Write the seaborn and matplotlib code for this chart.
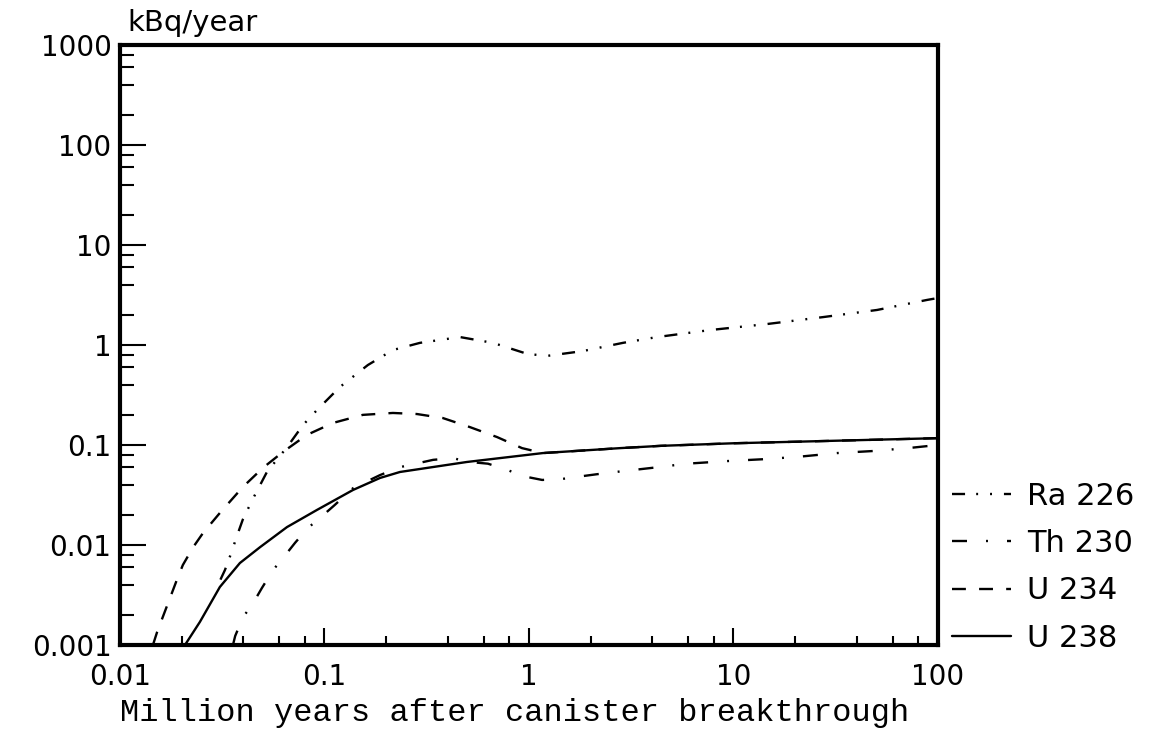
import matplotlib
matplotlib.use("Agg")
import matplotlib.pyplot as plt
import seaborn as sns
import pandas as pd
from matplotlib.ticker import LogLocator, FixedLocator, FixedFormatter, NullFormatter
from matplotlib.lines import Line2D

# ---------------- data ----------------
ra226_x = [0.031, 0.0326, 0.0353, 0.0369, 0.0399, 0.0447, 0.0524, 0.0656, 0.0785, 0.092,
           0.119, 0.163, 0.216, 0.293, 0.46, 0.667, 0.989, 1.24, 1.84, 2.88, 4.23, 7.68,
           14.6, 27.4, 50.4, 88.3, 100]
ra226_y = [0.0045, 0.0056, 0.0087, 0.0115, 0.018, 0.029, 0.054, 0.095, 0.158, 0.224,
           0.38, 0.63, 0.89, 1.05, 1.2, 1.05, 0.81, 0.78, 0.87, 1.05, 1.2, 1.41,
           1.62, 1.9, 2.24, 2.82, 2.95]

th230_x = [0.0357, 0.0366, 0.040, 0.0447, 0.0494, 0.056, 0.0627, 0.0718, 0.083, 0.095,
           0.112, 0.138, 0.149, 0.187, 0.234, 0.34, 0.425, 0.497, 0.63, 0.79, 0.925,
           1.16, 1.45, 1.72, 2.15, 2.72, 3.99, 5.92, 9.29, 13.9, 20.5, 32.1, 48.1, 71.3, 100]
th230_y = [0.001, 0.00123, 0.0019, 0.0026, 0.0037, 0.0056, 0.0074, 0.0105, 0.0148, 0.0186,
           0.025, 0.037, 0.040, 0.050, 0.060, 0.071, 0.074, 0.068, 0.065, 0.056, 0.049,
           0.0447, 0.0457, 0.048, 0.051, 0.054, 0.059, 0.065, 0.069, 0.072, 0.076, 0.083,
           0.087, 0.093, 0.100]

u234_x = [0.0145, 0.0152, 0.019, 0.0203, 0.0228, 0.0255, 0.0308, 0.0399, 0.05, 0.0626,
          0.082, 0.110, 0.154, 0.216, 0.283, 0.379, 0.514, 0.698, 0.925, 1.17, 2.79,
          4.4, 10, 21.1, 100]
u234_y = [0.001, 0.00135, 0.0045, 0.0063, 0.0095, 0.0132, 0.0209, 0.038, 0.059, 0.085,
          0.126, 0.166, 0.200, 0.209, 0.204, 0.186, 0.151, 0.120, 0.093, 0.083, 0.093,
          0.098, 0.104, 0.108, 0.117]

u238_x = [0.0208, 0.0246, 0.0308, 0.0386, 0.0484, 0.0656, 0.0919, 0.138, 0.187, 0.234,
          0.497, 1.17, 2.79, 4.4, 10, 21.1, 100]
u238_y = [0.001, 0.0017, 0.0038, 0.0066, 0.0095, 0.0151, 0.0224, 0.0355, 0.0468, 0.0537,
          0.0676, 0.083, 0.093, 0.098, 0.104, 0.108, 0.117]

series_names = ["Ra 226", "Th 230", "U 234", "U 238"]

y_tick_values = [0.001, 0.01, 0.1, 1, 10, 100, 1000]
y_tick_labels = ["0.001", "0.01", "0.1", "1", "10", "100", "1000"]
x_tick_values = [0.01, 0.1, 1, 10, 100]
x_tick_labels = ["0.01", "0.1", "1", "10", "100"]

x_label = "Million years after canister breakthrough"
y_label = "kBq/year"

# ---------------- styling ----------------
sns.set_style("white")
plt.rcParams["font.family"] = ["DejaVu Sans"]
plt.rcParams["lines.scale_dashes"] = False
plt.rcParams["text.color"] = "black"
plt.rcParams["axes.labelcolor"] = "black"

styles = {
    "Ra 226": (0, (9.4, 8.0, 1.4, 8.6, 1.4, 8.6)),
    "Th 230": (0, (10.8, 13.7, 1.4, 13.7)),
    "U 234": (0, (10.0, 9.5)),
    "U 238": "-",
}
data = {
    "Ra 226": (ra226_x, ra226_y),
    "Th 230": (th230_x, th230_y),
    "U 234": (u234_x, u234_y),
    "U 238": (u238_x, u238_y),
}

fig = plt.figure(figsize=(11.6, 7.34), dpi=100)
ax = fig.add_axes([0.1034, 0.1213, 0.7052, 0.8174])
ax.set_xscale("log")
ax.set_yscale("log")

lw = 1.7
for name in ["U 234", "Th 230", "Ra 226", "U 238"]:
    xs, ys = data[name]
    df = pd.DataFrame({"x": xs, "y": ys})
    sns.lineplot(data=df, x="x", y="y", ax=ax, color="black", linewidth=lw,
                 linestyle=styles[name], estimator=None, sort=False, legend=False)

ax.set_xlim(0.01, 100)
ax.set_ylim(0.001, 1000)

# ticks
ax.xaxis.set_major_locator(FixedLocator(x_tick_values))
ax.xaxis.set_major_formatter(FixedFormatter(x_tick_labels))
ax.yaxis.set_major_locator(FixedLocator(y_tick_values))
ax.yaxis.set_major_formatter(FixedFormatter(y_tick_labels))
ax.xaxis.set_minor_locator(LogLocator(base=10, subs=(2, 4, 6, 8), numticks=20))
ax.yaxis.set_minor_locator(LogLocator(base=10, subs=(2, 4, 6, 8), numticks=20))
ax.xaxis.set_minor_formatter(NullFormatter())
ax.yaxis.set_minor_formatter(NullFormatter())

ax.tick_params(axis="both", which="both", direction="in", top=False, right=False,
               bottom=True, left=True, width=1.5, color="black", labelcolor="black",
               labelsize=20)
ax.tick_params(axis="y", which="major", length=18.5, pad=6)
ax.tick_params(axis="y", which="minor", length=10)
ax.tick_params(axis="x", which="major", length=12, pad=13)
ax.tick_params(axis="x", which="minor", length=6.5)

for sp in ax.spines.values():
    sp.set_visible(True)
    sp.set_linewidth(3)
    sp.set_color("black")

ax.set_xlabel(x_label, fontfamily="Liberation Mono", fontsize=23, va="center",
              color="black")
ax.xaxis.set_label_coords(0.482, -0.113)
ax.set_ylabel("")
fig.text(127 / 1160, 1 - 23 / 734, y_label, fontsize=21, ha="left", va="center",
         color="black")

# legend outside on the right
handles = [Line2D([0], [0], color="black", linewidth=lw, linestyle=styles[n])
           for n in series_names]
leg = ax.legend(handles, series_names, loc="upper left", bbox_to_anchor=(1.017, 0.272),
                frameon=False, fontsize=22, handlelength=1.95, handletextpad=0.5,
                labelspacing=0.6, borderpad=0, borderaxespad=0)
for t in leg.get_texts():
    t.set_color("black")

fig.savefig("out.png", dpi=100, facecolor="white")
